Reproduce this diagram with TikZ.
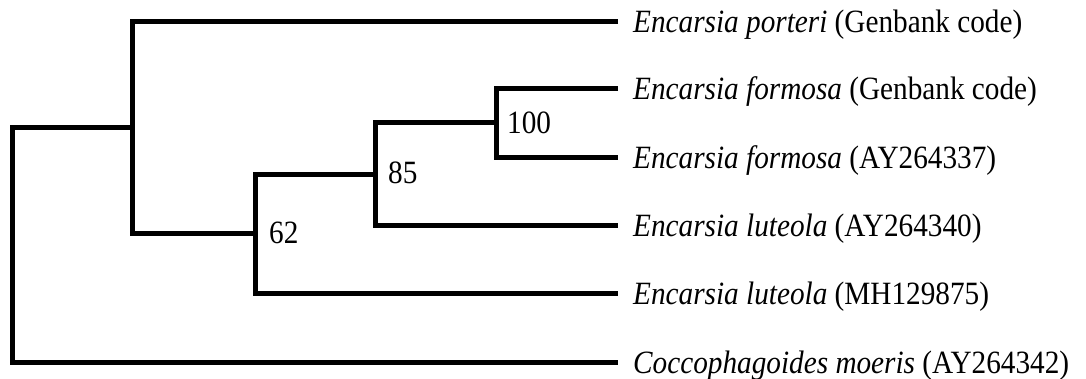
\documentclass[tikz,border=0pt]{standalone}
\usepackage{fontspec}
\setmainfont{Liberation Serif}[FakeStretch=0.9]
\begin{document}
\begin{tikzpicture}[x=1pt,y=-1pt,
  branch/.style={line width=5pt, line join=miter},
  leaf/.style={anchor=base west, inner sep=0pt, font=\fontsize{32.5}{36}\selectfont},
  boot/.style={anchor=base west, inner sep=0pt, font=\fontsize{32.5}{36}\selectfont}]
\useasboundingbox (0,0) rectangle (1086,378);
% leaf ends
\coordinate (t1) at (618,21);
\coordinate (t2) at (618,88.5);
\coordinate (t3) at (618,157);
\coordinate (t4) at (618,225.5);
\coordinate (t5) at (618,293);
\coordinate (t6) at (618,362);
% internal nodes
\coordinate (D) at (496.5,122.75);
\coordinate (C) at (375.5,174.1);
\coordinate (B) at (255,233.6);
\coordinate (A) at (132.5,127.3);
\coordinate (R) at (12,244.6);
% branches
\draw[branch] (t2) -| (D) |- (t3);
\draw[branch] (D) -| (C) |- (t4);
\draw[branch] (C) -| (B) |- (t5);
\draw[branch] (t1) -| (A) |- (B);
\draw[branch] (A) -| (R) |- (t6);
% leaf labels
\node[leaf] (n1) at (633,32) {\textit{Encarsia porteri} (Genbank code)};
\node[leaf] (n2) at (633,99.5) {\textit{Encarsia formosa} (Genbank code)};
\node[leaf] (n3) at (633,168) {\textit{Encarsia formosa} (AY264337)};
\node[leaf] (n4) at (633,236.5) {\textit{Encarsia luteola} (AY264340)};
\node[leaf] (n5) at (633,304) {\textit{Encarsia luteola} (MH129875)};
\node[leaf] (n6) at (633,373) {\textit{Coccophagoides moeris} (AY264342)};
% bootstrap values
\node[boot] (bD) at (507,133) {100};
\node[boot] (bC) at (388,183) {85};
\node[boot] (bB) at (269,243) {62};
\end{tikzpicture}
\end{document}
